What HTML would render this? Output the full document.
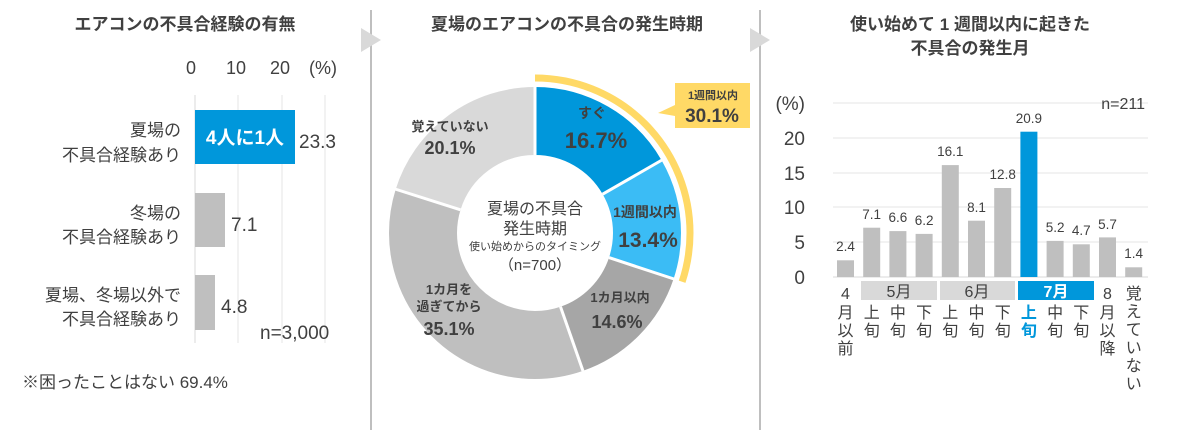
<!DOCTYPE html>
<html><head><meta charset="utf-8"><style>
body{margin:0;background:#fff}
svg text{font-family:"Liberation Sans","Noto Sans CJK JP",sans-serif;fill:#404040}
.b{font-weight:bold}
</style></head><body>
<svg width="1196" height="437" viewBox="0 0 1196 437" xmlns="http://www.w3.org/2000/svg">
<line x1="371" y1="10" x2="371" y2="430" stroke="#bfbfbf" stroke-width="2"/>
<line x1="760" y1="10" x2="760" y2="430" stroke="#bfbfbf" stroke-width="2"/>
<polygon points="361,28 381,40 361,52" fill="#d9d9d9"/>
<polygon points="750,28 770,40 750,52" fill="#d9d9d9"/>
<text x="185" y="30" font-size="17" class="b" text-anchor="middle" fill="#222">エアコンの不具合経験の有無</text>
<text x="567" y="30" font-size="17" class="b" text-anchor="middle" fill="#222">夏場のエアコンの不具合の発生時期</text>
<text x="970" y="30" font-size="17" class="b" text-anchor="middle" fill="#222">使い始めて 1 週間以内に起きた</text>
<text x="970" y="54" font-size="17" class="b" text-anchor="middle" fill="#222">不具合の発生月</text>

<g font-size="18">
<text x="191" y="74" text-anchor="middle">0</text>
<text x="236" y="74" text-anchor="middle">10</text>
<text x="280" y="74" text-anchor="middle">20</text>
<text x="323" y="74" text-anchor="middle">(%)</text>
</g>
<g stroke="#e6e6e6" stroke-width="1">
<line x1="238" y1="95" x2="238" y2="343"/><line x1="282" y1="95" x2="282" y2="343"/><line x1="325" y1="95" x2="325" y2="343"/>
</g>
<line x1="195" y1="95" x2="195" y2="343" stroke="#d9d9d9"/>
<rect x="195" y="110" width="100" height="54" fill="#0097db"/>
<text x="245" y="144" font-size="19" class="b" text-anchor="middle" style="fill:#fff">4人に1人</text>
<rect x="195" y="193" width="30" height="54" fill="#bfbfbf"/>
<rect x="195" y="275" width="20" height="55" fill="#bfbfbf"/>
<g font-size="19">
<text x="299" y="148">23.3</text>
<text x="231" y="231">7.1</text>
<text x="221" y="313">4.8</text>
<text x="260" y="339">n=3,000</text>
</g>
<g font-size="17" text-anchor="end">
<text x="181" y="136">夏場の</text><text x="181" y="161">不具合経験あり</text>
<text x="181" y="219">冬場の</text><text x="181" y="243">不具合経験あり</text>
<text x="181" y="301">夏場、冬場以外で</text><text x="181" y="325">不具合経験あり</text>
</g>
<text x="22" y="388" font-size="17">※困ったことはない  69.4%</text>

<g transform="rotate(-90 535 233)" fill="none" stroke-width="68">
<circle cx="535" cy="233" r="112" stroke="#0097db" stroke-dasharray="117.5 1000" stroke-dashoffset="0"/>
<circle cx="535" cy="233" r="112" stroke="#3bbcf5" stroke-dasharray="94.3 1000" stroke-dashoffset="-117.5"/>
<circle cx="535" cy="233" r="112" stroke="#a6a6a6" stroke-dasharray="102.7 1000" stroke-dashoffset="-211.8"/>
<circle cx="535" cy="233" r="112" stroke="#bfbfbf" stroke-dasharray="247 1000" stroke-dashoffset="-314.5"/>
<circle cx="535" cy="233" r="112" stroke="#d9d9d9" stroke-dasharray="142.2 1000" stroke-dashoffset="-561.5"/>
<circle cx="535" cy="233" r="155" stroke="#ffd966" stroke-width="7" stroke-dasharray="293 2000"/>
</g>
<g stroke="#fff" stroke-width="3">
<line x1="535" y1="155" x2="535" y2="85"/>
<line x1="602.6" y1="194.2" x2="662" y2="160"/>
<line x1="609" y1="257.6" x2="674" y2="279"/>
<line x1="560.5" y1="306.7" x2="583" y2="371"/>
<line x1="460.5" y1="209.8" x2="395" y2="189"/>
</g>
<text x="535" y="214" font-size="16" text-anchor="middle">夏場の不具合</text>
<text x="535" y="234" font-size="16" text-anchor="middle">発生時期</text>
<text x="535" y="250" font-size="11" text-anchor="middle">使い始めからのタイミング</text>
<text x="535" y="270" font-size="15" text-anchor="middle">（n=700）</text>
<g class="b" text-anchor="middle">
<text x="592" y="118" font-size="14">すぐ</text><text x="596" y="148" font-size="22">16.7%</text>
<text x="645" y="217" font-size="14">1週間以内</text><text x="648" y="247" font-size="21">13.4%</text>
<text x="620" y="302" font-size="13">1カ月以内</text><text x="617" y="328" font-size="18">14.6%</text>
<text x="449" y="294" font-size="13">1カ月を</text><text x="449" y="311" font-size="13">過ぎてから</text><text x="449" y="335" font-size="18">35.1%</text>
<text x="450" y="131" font-size="13">覚えていない</text><text x="450" y="154" font-size="18">20.1%</text>
</g>
<polygon points="675,83 750,83 750,128 675,128 675,116 658,113 675,105" fill="#ffd966"/>
<text x="713" y="99" font-size="11" class="b" text-anchor="middle">1週間以内</text>
<text x="712" y="122" font-size="19" class="b" text-anchor="middle">30.1%</text>

<g stroke="#e6e6e6">
<line x1="833" y1="103" x2="1148" y2="103"/><line x1="833" y1="138" x2="1148" y2="138"/><line x1="833" y1="173" x2="1148" y2="173"/>
<line x1="833" y1="207" x2="1148" y2="207"/><line x1="833" y1="242" x2="1148" y2="242"/>
</g>
<line x1="833" y1="277" x2="1148" y2="277" stroke="#d9d9d9"/>
<g font-size="19" text-anchor="end">
<text x="805" y="110">(%)</text>
<text x="805" y="145">20</text><text x="805" y="180">15</text><text x="805" y="214">10</text><text x="805" y="249">5</text><text x="805" y="284">0</text>
</g>
<text x="1145" y="109" font-size="16" text-anchor="end">n=211</text>
<g fill="#bfbfbf">
<rect x="837" y="260.3" width="17" height="16.7"/>
<rect x="863.2" y="227.7" width="17" height="49.3"/>
<rect x="889.4" y="231.1" width="17" height="45.9"/>
<rect x="915.6" y="233.9" width="17" height="43.1"/>
<rect x="941.8" y="165.1" width="17" height="111.9"/>
<rect x="968" y="220.7" width="17" height="56.3"/>
<rect x="994.2" y="188" width="17" height="89"/>
<rect x="1020.4" y="131.7" width="17" height="145.3" fill="#0097db"/>
<rect x="1046.6" y="240.9" width="17" height="36.1"/>
<rect x="1072.8" y="244.3" width="17" height="32.7"/>
<rect x="1099" y="237.4" width="17" height="39.6"/>
<rect x="1125.2" y="267.3" width="17" height="9.7"/>
</g>
<g font-size="13.5" text-anchor="middle">
<text x="845.5" y="251">2.4</text><text x="871.7" y="219">7.1</text><text x="897.9" y="222">6.6</text><text x="924.1" y="225">6.2</text>
<text x="950.3" y="156">16.1</text><text x="976.5" y="212">8.1</text><text x="1002.7" y="179">12.8</text><text x="1028.9" y="123">20.9</text>
<text x="1055.1" y="232">5.2</text><text x="1081.3" y="235">4.7</text><text x="1107.5" y="229">5.7</text><text x="1133.7" y="258">1.4</text>
</g>
<rect x="861" y="281" width="76" height="19" fill="#d9d9d9"/>
<rect x="940" y="281" width="75" height="19" fill="#d9d9d9"/>
<rect x="1018" y="281" width="76" height="19" fill="#0097db"/>
<g font-size="16" text-anchor="middle">
<text x="899" y="297">5月</text><text x="977" y="297">6月</text><text x="1056" y="297" class="b" style="fill:#fff">7月</text>
</g>
<g font-size="16" text-anchor="middle">
<text x="845.5" y="299">4</text><text x="845.5" y="318">月</text><text x="845.5" y="336">以</text><text x="845.5" y="354">前</text>
<text x="871.7" y="318">上</text><text x="871.7" y="336">旬</text>
<text x="897.9" y="318">中</text><text x="897.9" y="336">旬</text>
<text x="924.1" y="318">下</text><text x="924.1" y="336">旬</text>
<text x="950.3" y="318">上</text><text x="950.3" y="336">旬</text>
<text x="976.5" y="318">中</text><text x="976.5" y="336">旬</text>
<text x="1002.7" y="318">下</text><text x="1002.7" y="336">旬</text>
<text x="1028.9" y="318" class="b" style="fill:#0097db">上</text><text x="1028.9" y="336" class="b" style="fill:#0097db">旬</text>
<text x="1055.1" y="318">中</text><text x="1055.1" y="336">旬</text>
<text x="1081.3" y="318">下</text><text x="1081.3" y="336">旬</text>
<text x="1107.5" y="299">8</text><text x="1107.5" y="318">月</text><text x="1107.5" y="336">以</text><text x="1107.5" y="354">降</text>
<text x="1133.7" y="299">覚</text><text x="1133.7" y="317">え</text><text x="1133.7" y="335">て</text><text x="1133.7" y="353">い</text><text x="1133.7" y="371">な</text><text x="1133.7" y="389">い</text>
</g>
</svg>
</body></html>
